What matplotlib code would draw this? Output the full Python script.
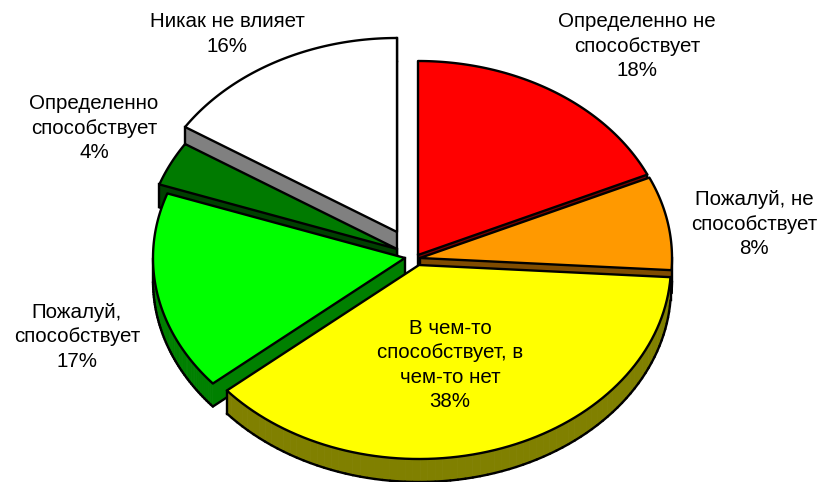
import numpy as np
import matplotlib
matplotlib.use("Agg")
import matplotlib.pyplot as plt
from matplotlib.patches import Polygon

plt.rcParams["font.family"] = ["Liberation Sans", "DejaVu Sans"]

# slices clockwise from 12 o'clock
labels = [
    "Определенно не\nспособствует\n18%",
    "Пожалуй, не\nспособствует\n8%",
    "В чем-то\nспособствует, в\nчем-то нет\n38%",
    "Пожалуй,\nспособствует\n17%",
    "Определенно\nспособствует\n4%",
    "Никак не влияет\n16%",
]
values = [18.2, 7.8, 37.8, 16.6, 3.7, 15.9]
top_colors = ["#FF0000", "#FF9900", "#FFFF00", "#00FF00", "#007A00", "#FFFFFF"]
side_colors = ["#800000", "#804C00", "#808000", "#008000", "#004000", "#808080"]

# exploded slice apexes and label centres, in pixels
apex_x = [418, 420, 419, 405, 397, 397]
apex_y = [255, 258, 265, 258, 249, 232]
label_x = [637, 754, 450, 77, 94, 227]
label_y = [46, 224, 365, 337, 128, 34]

RX, RY = 252, 194
DEPTH = 23
draw_order = [5, 4, 0, 1, 3, 2]

fig = plt.figure(figsize=(8.23, 4.82), dpi=100)
ax = fig.add_axes([0, 0, 1, 1])
ax.set_xlim(0, 823)
ax.set_ylim(482, 0)
ax.axis("off")

ends = np.cumsum(values) / sum(values) * 2 * np.pi
starts = ends - np.array(values) / sum(values) * 2 * np.pi
drop = np.array([0, DEPTH])

for i in draw_order:
    t = np.linspace(starts[i], ends[i], 80)
    rim = np.column_stack([apex_x[i] + RX * np.sin(t), apex_y[i] - RY * np.cos(t)])
    apex = np.array([[apex_x[i], apex_y[i]]])
    outline = np.vstack([apex, rim])
    closed = np.vstack([outline, apex])

    # going clockwise on screen, an edge faces the viewer when it runs leftwards
    facing = np.diff(closed[:, 0]) < 0
    n = len(facing)
    for k in range(n):
        if not facing[k]:
            continue
        a, b = closed[k], closed[k + 1]
        ax.add_patch(Polygon([a, b, b + drop, a + drop], closed=True,
                             fc=side_colors[i], ec=side_colors[i], lw=0.6, zorder=1))
    for k in range(n):
        if not facing[k]:
            continue
        a, b = closed[k], closed[k + 1]
        ax.plot([a[0], b[0]], [a[1] + DEPTH, b[1] + DEPTH], color="black", lw=1.7,
                solid_capstyle="round", zorder=1)
        if not facing[k - 1]:
            ax.plot([a[0], a[0]], [a[1], a[1] + DEPTH], color="black", lw=1.7, zorder=1)
        if not facing[(k + 1) % n]:
            ax.plot([b[0], b[0]], [b[1], b[1] + DEPTH], color="black", lw=1.7, zorder=1)
    ax.add_patch(Polygon(outline, closed=True, fc=top_colors[i], ec="black", lw=1.7,
                         joinstyle="round", zorder=1))

for text, x, y in zip(labels, label_x, label_y):
    ax.text(x, y, text, ha="center", va="center", fontsize=14.8, color="black",
            linespacing=1.36, zorder=2)

fig.savefig("out.png", dpi=100, facecolor="white")
